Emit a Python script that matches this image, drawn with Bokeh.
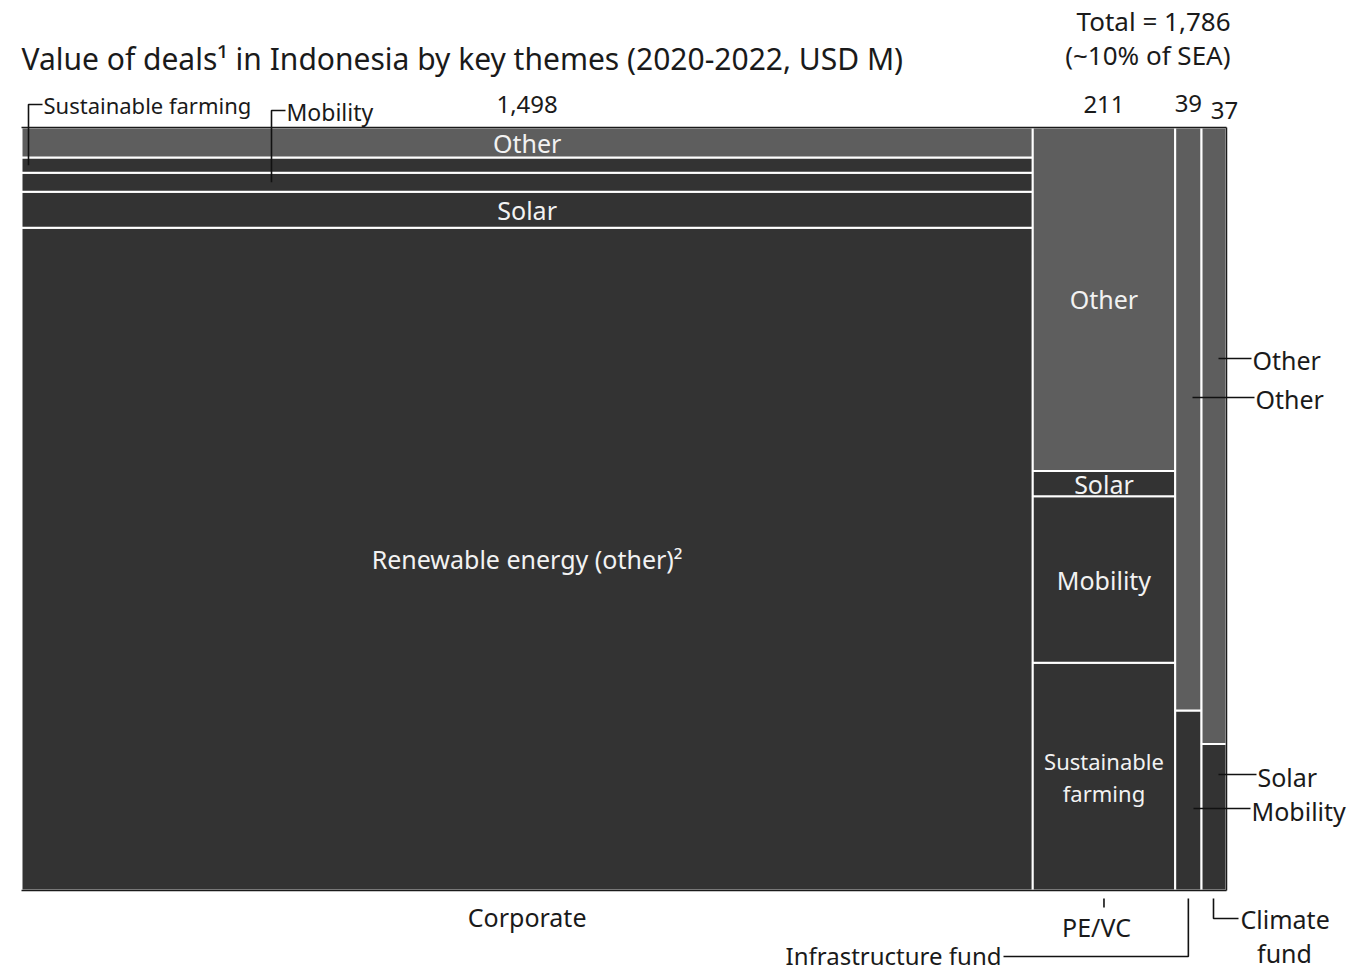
from bokeh.plotting import figure
from bokeh.models import Range1d, ColumnDataSource
from bokeh.core.properties import value
from bokeh.embed import file_html
from bokeh.resources import INLINE

# ---------------- data ----------------
columns = ["Corporate", "PE/VC", "Infrastructure fund", "Climate fund"]
col_totals = [1498, 211, 39, 37]
total_label = "Total = 1,786"
total_sub = "(~10% of SEA)"

# segments per column, bottom to top
corp_themes = ["Renewable energy (other)", "Solar", "Mobility", "Sustainable farming", "Other"]
corp_values = [1301, 71, 37, 30, 59]
pevc_themes = ["Sustainable farming", "Mobility", "Solar", "Other"]
pevc_values = [63, 46, 7, 95]
infra_themes = ["Mobility", "Other"]
infra_values = [9.2, 29.8]
climate_themes = ["Solar", "Other"]
climate_values = [7.1, 29.9]

theme_colors = {"Other": "#5e5e5e"}
default_color = "#333333"

FONT = "Noto Sans"
W, H = 1347, 972

# pixel mapping helpers (annotation placement)
sx = (1226 - 21) / sum(col_totals)
sy = (890 - 127) / 100.0
def X(img_x):
    return (img_x - 21) / sx
def Y(img_y):
    return (890 - img_y) / sy

p = figure(width=W, height=H, output_backend="svg", toolbar_location=None,
           x_range=Range1d(-21 / sx, (W - 21) / sx),
           y_range=Range1d(-(H - 890) / sy, 890 / sy),
           min_border=0, outline_line_color=None)
p.axis.visible = False
p.grid.visible = False
p.background_fill_color = "white"
p.border_fill_color = "white"

# ---------------- bars ----------------
all_themes = [corp_themes, pevc_themes, infra_themes, climate_themes]
all_values = [corp_values, pevc_values, infra_values, climate_values]

left, right, bottom, top, color = [], [], [], [], []
seg = {}  # (col, theme) -> (l, r, b, t)
x0 = 0
for ci, (themes, vals) in enumerate(zip(all_themes, all_values)):
    w = col_totals[ci]
    s = sum(vals)
    y0 = 0.0
    for th, v in zip(themes, vals):
        h = v / s * 100
        left.append(x0); right.append(x0 + w)
        bottom.append(y0); top.append(y0 + h)
        color.append(theme_colors.get(th, default_color))
        seg[(ci, th)] = (x0, x0 + w, y0, y0 + h)
        y0 += h
    x0 += w
total = x0

src = ColumnDataSource(dict(left=left, right=right, bottom=bottom, top=top, color=color))
p.quad(left="left", right="right", bottom="bottom", top="top", fill_color="color",
       line_color="white", line_width=2, source=src)

# frame lines (top, right, bottom)
p.multi_line(xs=[[0, total], [total, total], [0, total]],
             ys=[[100, 100], [0, 100], [0, 0]], line_color="#1a1a1a", line_width=1.5)

def txt(x, y, t, size="25px", align="center", color="#1a1a1a", baseline="middle"):
    p.text(x=[x], y=[y], text=[t], text_font=value(FONT), text_font_size=size,
           text_align=align, text_baseline=baseline, text_color=color)

def mid(key):
    l, r, b, t = seg[key]
    return (l + r) / 2, (b + t) / 2

# ---------------- inside labels ----------------
inside = [((0, "Other"), "Other"), ((0, "Solar"), "Solar"),
          ((0, "Renewable energy (other)"), "Renewable energy (other)²"),
          ((1, "Other"), "Other"), ((1, "Solar"), "Solar"), ((1, "Mobility"), "Mobility")]
for key, lab in inside:
    cx, cy = mid(key)
    txt(cx, cy, lab, color="#f2f2f2")
cx, cy = mid((1, "Sustainable farming"))
txt(cx, cy + 16 / sy, "Sustainable", size="22px", color="#f2f2f2")
txt(cx, cy - 16 / sy, "farming", size="22px", color="#f2f2f2")

# ---------------- column totals ----------------
col_centers = []
x0 = 0
for w in col_totals:
    col_centers.append(x0 + w / 2)
    x0 += w
tot_offsets = [(0, 104), (0, 104), (0, 103), (10.5, 110)]
for cc, v, (dx, iy) in zip(col_centers, col_totals, tot_offsets):
    txt(cc + dx / sx, Y(iy), f"{v:,}", size="24px")
txt(total + 4 / sx, Y(20), total_label, size="26px", align="right")
txt(total + 4 / sx, Y(54), total_sub, size="26px", align="right")

# title
txt(0, Y(58), "Value of deals¹ in Indonesia by key themes (2020-2022, USD M)",
    size="30px", align="left")

# ---------------- leader lines ----------------
LC = "#111111"
xs, ys = [], []
# corporate small segments
_, sfy = mid((0, "Sustainable farming"))
xs.append([X(28), X(28), X(42)]); ys.append([sfy, Y(104), Y(104)])
txt(X(43), Y(104), "Sustainable farming", size="22px", align="left")
_, mby = mid((0, "Mobility"))
xs.append([X(271), X(271), X(285)]); ys.append([mby, Y(110), Y(110)])
txt(X(286), Y(111), "Mobility", size="23px", align="left")

# right side
xs.append([X(1218), X(1251)]); ys.append([Y(358), Y(358)])
txt(X(1252), Y(359), "Other", align="left")
xs.append([X(1192), X(1254)]); ys.append([Y(397), Y(397)])
txt(X(1255), Y(398), "Other", align="left")
xs.append([X(1218), X(1256)]); ys.append([Y(774), Y(774)])
txt(X(1257), Y(776), "Solar", align="left")
xs.append([X(1193), X(1250)]); ys.append([Y(808), Y(808)])
txt(X(1251), Y(810), "Mobility", align="left")

# bottom category labels
txt(col_centers[0], Y(916), columns[0])
xs.append([col_centers[1], col_centers[1]]); ys.append([Y(898), Y(907)])
txt(X(1096), Y(926), columns[1])
xs.append([col_centers[2], col_centers[2], X(1003)]); ys.append([Y(898), Y(956), Y(956)])
txt(X(1001), Y(955), columns[2], size="24px", align="right")
xs.append([X(1213), X(1213), X(1238)]); ys.append([Y(898), Y(918), Y(918)])
txt(X(1240), Y(918), "Climate", align="left")
txt(X(1284), Y(952), "fund")

p.multi_line(xs=xs, ys=ys, line_color=LC, line_width=1.6)

open("out.html", "w").write(file_html(p, INLINE))
